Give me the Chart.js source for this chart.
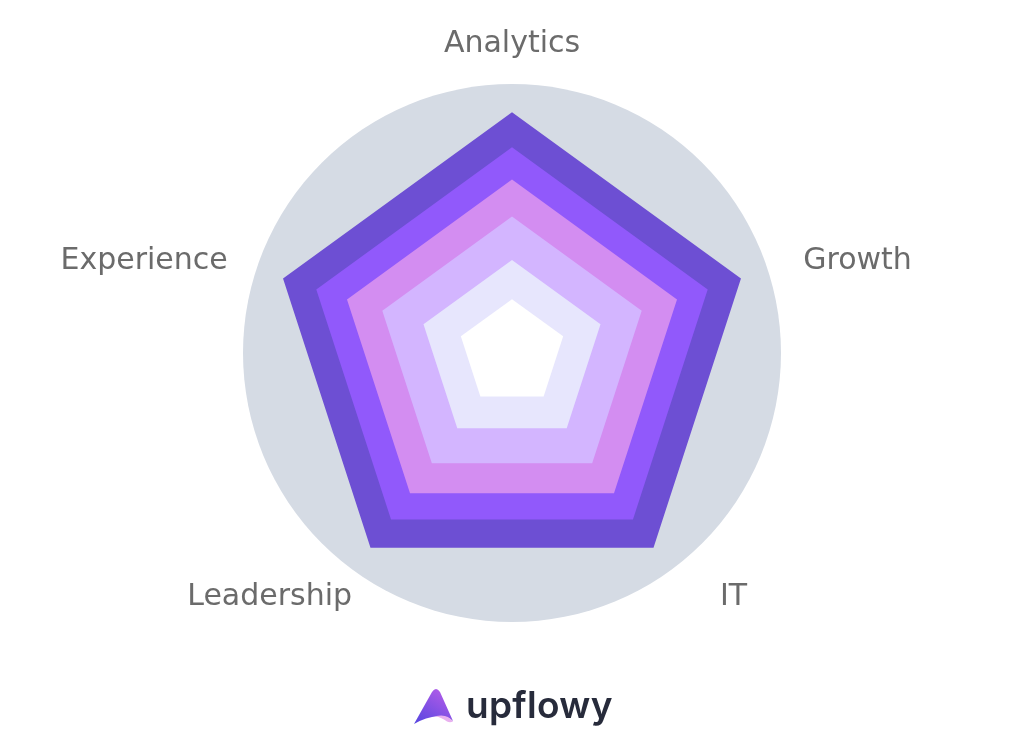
<!DOCTYPE html>
<html>
<head>
<meta charset="utf-8">
<script src="https://cdn.jsdelivr.net/npm/chart.js@4/dist/chart.umd.min.js"></script>
<style>
    html, body { margin: 0; padding: 0; background: #ffffff; }
    #wrap { position: relative; width: 1024px; height: 756px; }
    #logo {
        position: absolute; left: 414px; top: 684px;
        display: flex; align-items: center; gap: 12px;
        font-family: 'Inter', sans-serif; font-weight: 600; font-size: 37px;
        color: #272b3b; letter-spacing: 0.3px;
    }
    #logo span { position: relative; top: -2px; }
</style>
</head>
<body>
<div id="wrap">
    <canvas id="radarChart" width="1024" height="756"></canvas>
    <div id="logo">
        <svg width="40" height="37" viewBox="0 0 40 37">
            <defs>
                <linearGradient id="lg" x1="0" y1="1" x2="0.7" y2="0">
                    <stop offset="0" stop-color="#5546e0"/>
                    <stop offset="1" stop-color="#b05be8"/>
                </linearGradient>
            </defs>
            <path d="M0 36 L18 4 Q22 -2 26 4 L39 33 Q33 27.5 24 28 Q12 29 0 36 Z" fill="url(#lg)"/>
            <path d="M21 28.3 Q33 25 39 33.5 Q36 35 33 33.5 Q28 29.5 21 28.3 Z" fill="#e9b0ef"/>
        </svg>
        <span>upflowy</span>
    </div>
</div>
<script>
// Radar data
const labels = ['Analytics', 'Growth', 'IT', 'Leadership', 'Experience'];
const layer1 = [89.5, 89.5, 89.5, 89.5, 89.5];
const layer2 = [76.5, 76.5, 76.5, 76.5, 76.5];
const layer3 = [64.5, 64.5, 64.5, 64.5, 64.5];
const layer4 = [50.7, 50.7, 50.7, 50.7, 50.7];
const layer5 = [34.6, 34.6, 34.6, 34.6, 34.6];
const layer6 = [20, 20, 20, 20, 20];
const layerColors = ['#6d4fd3', '#9159fb', '#d38df1', '#d3b5ff', '#e7e6fd', '#ffffff'];

const scaleMax = 100;

// grey disc behind the pentagons
const discPlugin = {
    id: 'disc',
    beforeDatasetsDraw(chart) {
        const r = chart.scales.r;
        const ctx = chart.ctx;
        ctx.save();
        ctx.beginPath();
        ctx.arc(r.xCenter, r.yCenter, r.getDistanceFromCenterForValue(scaleMax), 0, Math.PI * 2);
        ctx.fillStyle = '#d5dbe4';
        ctx.fill();
        ctx.restore();
    }
};

// axis names drawn around the disc
const labelPlugin = {
    id: 'axisNames',
    afterDraw(chart) {
        const r = chart.scales.r;
        const ctx = chart.ctx;
        ctx.save();
        ctx.font = '30px "DejaVu Sans"';
        ctx.fillStyle = '#6b6b6b';
        labels.forEach((name, i) => {
            const p = r.getPointPosition(i, r.drawingArea + 32);
            let x = p.x, y = p.y;
            if (i === 0) {
                ctx.textAlign = 'center'; y -= 9;
            } else if (i === 1) {
                ctx.textAlign = 'left'; x += 5;
            } else if (i === 2) {
                ctx.textAlign = 'left'; x += 31;
            } else if (i === 3) {
                ctx.textAlign = 'right'; x += 17;
            } else {
                ctx.textAlign = 'right'; x += 2;
            }
            ctx.textBaseline = 'middle';
            ctx.fillText(name, x, y + 1);
        });
        ctx.restore();
    }
};

const series = [layer1, layer2, layer3, layer4, layer5, layer6];

new Chart(document.getElementById('radarChart'), {
    type: 'radar',
    data: {
        labels: labels,
        datasets: series.map((d, i) => ({
            data: d,
            backgroundColor: layerColors[i],
            borderWidth: 0,
            pointRadius: 0,
            fill: 'origin',
            order: series.length - i   // inner layers on top
        }))
    },
    options: {
        responsive: false,
        animation: false,
        layout: { padding: { top: 84, bottom: 134, left: 0, right: 0 } },
        plugins: {
            legend: { display: false },
            tooltip: { enabled: false }
        },
        scales: {
            r: {
                min: 0,
                max: scaleMax,
                ticks: { display: false },
                grid: { display: false },
                angleLines: { display: false },
                pointLabels: { display: false }
            }
        }
    },
    plugins: [discPlugin, labelPlugin]
});
</script>
</body>
</html>
